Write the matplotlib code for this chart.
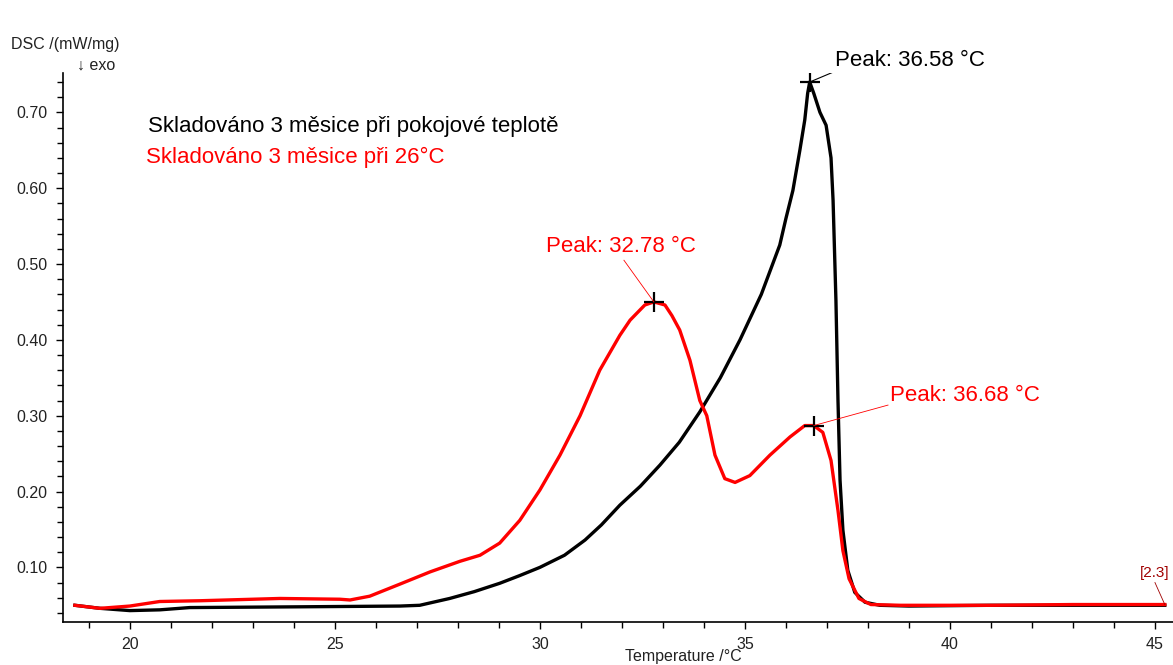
import numpy as np
import matplotlib
matplotlib.use("Agg")
import matplotlib.pyplot as plt
from matplotlib.ticker import MultipleLocator, FormatStrFormatter

plt.rcParams['font.family'] = ['Liberation Sans', 'DejaVu Sans']

# black curve: stored 3 months at room temperature
t_black = [18.66, 19.27, 20.0, 20.73, 21.46, 24.15, 26.59, 27.07, 27.8, 28.4, 29.02, 29.5, 30.0,
           30.6, 31.1, 31.5, 31.95, 32.45, 32.93, 33.4, 33.9, 34.4, 34.88, 35.4, 35.85,
           36.0, 36.17, 36.34, 36.46, 36.53, 36.58, 36.68,
           36.83, 36.98, 37.1, 37.15, 37.22, 37.27, 37.32, 37.39, 37.51, 37.68, 37.93, 38.29,
           39.0, 41.0, 43.0, 45.24]
v_black = [0.050, 0.046, 0.043, 0.044, 0.047, 0.048, 0.049, 0.050, 0.059, 0.068, 0.079, 0.089, 0.100,
           0.116, 0.136, 0.156, 0.182, 0.207, 0.235, 0.265, 0.305, 0.350, 0.400, 0.460, 0.525,
           0.560, 0.597, 0.650, 0.690, 0.725, 0.740, 0.725,
           0.700, 0.683, 0.640, 0.584, 0.452, 0.320, 0.215, 0.149, 0.096, 0.067, 0.054, 0.050,
           0.049, 0.050, 0.050, 0.050]

# red curve: stored 3 months at 26 °C
t_red = [18.66, 19.27, 20.0, 20.73, 21.71, 23.66, 25.12, 25.37, 25.85, 26.59, 27.32,
         28.05, 28.54, 29.02, 29.51, 30.0, 30.49, 30.98, 31.46, 31.95, 32.2, 32.56, 32.78,
         33.05, 33.22, 33.41, 33.66, 33.9, 34.07, 34.27, 34.51, 34.76, 35.12, 35.61, 36.1,
         36.46, 36.68, 36.9, 37.1, 37.27, 37.39, 37.54, 37.78, 38.07, 38.8, 41.0, 43.0, 45.24]
v_red = [0.050, 0.046, 0.049, 0.055, 0.056, 0.059, 0.058, 0.057, 0.062, 0.078, 0.094,
         0.108, 0.116, 0.132, 0.162, 0.202, 0.248, 0.300, 0.360, 0.406, 0.426, 0.446, 0.450,
         0.446, 0.432, 0.413, 0.373, 0.320, 0.300, 0.248, 0.217, 0.212, 0.221, 0.248, 0.272,
         0.287, 0.287, 0.278, 0.241, 0.175, 0.122, 0.085, 0.059, 0.051, 0.050, 0.050,
         0.051, 0.051]

labels = ["Skladováno 3 měsice při pokojové teplotě", "Skladováno 3 měsice při 26°C"]

fig = plt.figure(figsize=(11.73, 6.65), dpi=100)
ax = fig.add_axes([0.0537, 0.0647, 0.9463, 0.8253])

ax.plot(t_black, v_black, color='black', lw=2.4, solid_joinstyle='round')
ax.plot(t_red, v_red, color='#ff0000', lw=2.4, solid_joinstyle='round')

# peak markers
ax.plot([36.58, 32.78, 36.68], [0.740, 0.450, 0.287], '+', color='black', ms=15, mew=1.6)

# connector lines
ax.plot([36.58, 37.15], [0.740, 0.753], color='black', lw=0.8)
ax.plot([32.78, 32.05], [0.450, 0.505], color='#ff0000', lw=0.6)
ax.plot([36.68, 38.49], [0.287, 0.314], color='#ff0000', lw=0.6)
ax.plot([45.24, 45.0], [0.051, 0.080], color='#a00000', lw=0.6)

ax.text(37.2, 0.769, "Peak: 36.58 °C", color='black', fontsize=16, va='center')
ax.text(31.98, 0.5225, "Peak: 32.78 °C", color='#ff0000', fontsize=16, va='center', ha='center')
ax.text(38.54, 0.327, "Peak: 36.68 °C", color='#ff0000', fontsize=16, va='center')
ax.text(45.0, 0.092, "[2.3]", color='#a00000', fontsize=11, va='center', ha='center')

ax.text(20.44, 0.682, labels[0], color='black', fontsize=16, va='center')
ax.text(20.40, 0.641, labels[1], color='#ff0000', fontsize=16, va='center')

ax.set_xlim(18.37, 45.44)
ax.set_ylim(0.028, 0.7517)
ax.xaxis.set_major_locator(MultipleLocator(5))
ax.xaxis.set_minor_locator(MultipleLocator(1))
ax.yaxis.set_minor_locator(MultipleLocator(0.02))
ax.yaxis.set_major_formatter(FormatStrFormatter('%.2f'))
ax.set_yticks(np.arange(0.1, 0.71, 0.1))

for s in ['top', 'right']:
    ax.spines[s].set_visible(False)
for s in ['left', 'bottom']:
    ax.spines[s].set_linewidth(1.2)
ax.tick_params(which='major', direction='out', length=5, width=1, labelsize=11.5,
               labelcolor='#222222', pad=6)
ax.tick_params(which='minor', direction='out', length=4, width=1)

fig.text(683 / 1173, 1 - 657 / 665, "Temperature /°C", fontsize=11.5, color='#222222',
         ha='center', va='center')
fig.text(0.009, 0.933, "DSC /(mW/mg)", fontsize=11.5, color='#222222', va='center')
fig.text(0.066, 0.902, "↓ exo", fontsize=11.5, color='#222222', va='center')

plt.savefig('out.png', dpi=100)
